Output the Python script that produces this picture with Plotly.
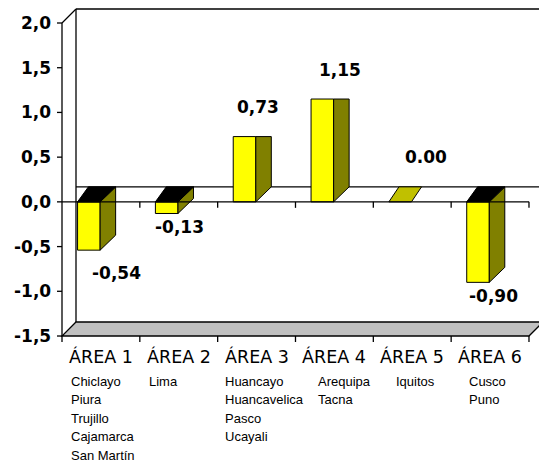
import plotly.graph_objects as go

# ---------------- data ----------------
areas = ["ÁREA 1", "ÁREA 2", "ÁREA 3", "ÁREA 4", "ÁREA 5", "ÁREA 6"]
values = [-0.54, -0.13, 0.73, 1.15, 0.00, -0.90]
value_labels = ["-0,54", "-0,13", "0,73", "1,15", "0.00", "-0,90"]
cities = [
    ["Chiclayo", "Piura", "Trujillo", "Cajamarca", "San Martín"],
    ["Lima"],
    ["Huancayo", "Huancavelica", "Pasco", "Ucayali"],
    ["Arequipa", "Tacna"],
    ["Iquitos"],
    ["Cusco", "Puno"],
]
y_ticks = [-1.5, -1.0, -0.5, 0.0, 0.5, 1.0, 1.5, 2.0]
y_tick_labels = ["-1,5", "-1,0", "-0,5", "0,0", "0,5", "1,0", "1,5", "2,0"]

# ---------------- layout constants ----------------
W, H = 539, 463
PXX = 77.83          # pixels per category
PXY = 89.43          # pixels per value unit
XMIN = -0.5 - 62 / PXX
XMAX = XMIN + W / PXX
YMAX = 2.0 + 23 / PXY
YMIN = YMAX - H / PXY

DXW, DYW = 14 / PXX, 14 / PXY      # wall depth
DXB, DYB = 15.5 / PXX, 15 / PXY    # bar depth
FRONT_OFF, FRONT_W = -0.30, 0.29
TOP_SHIFT = 0.7

label_dx_px = [16, 1, 1, 6, 14, 3]
label_dy_px = [-23, -14, 30, 29, 45, -14]
city_left_px = [69, 147, 223, 316, 394, 467]

YELLOW = "#FFFF00"
OLIVE = "#808000"
ZEROFACE = "#C0C000"
GREY = "#C0C0C0"

fig = go.Figure()

# front faces
fig.add_trace(go.Bar(
    x=list(range(len(values))), y=[v if v != 0 else None for v in values],
    width=FRONT_W, offset=FRONT_OFF,
    marker=dict(color=YELLOW, line=dict(color="black", width=1)),
    hoverinfo="skip",
))

side_x, side_y, top_x, top_y, zero_x, zero_y = [], [], [], [], [], []
for i, v in enumerate(values):
    x0 = i + FRONT_OFF
    x1 = x0 + FRONT_W
    if v == 0:
        zero_x += [x0, x1, x1 + DXB * 0.65, x0 + DXB * 0.65, x0, None]
        zero_y += [0, 0, DYB, DYB, 0, None]
        continue
    if v < 0:
        side_x += [x1, x1 + DXB, x1 + DXB, x1, x1, None]
        side_y += [0, DYB, v + DYB, v, 0, None]
        top_x += [x0, x1, x1 + DXB, x0 + DXB * TOP_SHIFT, x0, None]
        top_y += [0, 0, DYB, DYB, 0, None]
    else:
        side_x += [x1, x1 + DXB, x1 + DXB, x1, x1, None]
        side_y += [0, DYB, v, v, 0, None]

for xs, ys, col in [(side_x, side_y, OLIVE), (top_x, top_y, "black"), (zero_x, zero_y, ZEROFACE)]:
    fig.add_trace(go.Scatter(x=xs, y=ys, mode="lines", fill="toself", fillcolor=col,
                             line=dict(color="black", width=1), hoverinfo="skip"))

shapes = []
ln = dict(color="black", width=1.3)
# floor
shapes.append(dict(type="path", layer="below",
                   path=f"M {-0.5},{-1.5} L {5.5},{-1.5} L {5.5 + DXW},{-1.5 + DYW} L {-0.5 + DXW},{-1.5 + DYW} Z",
                   fillcolor=GREY, line=ln, xref="x", yref="y"))
# back wall
shapes.append(dict(type="line", layer="below", x0=-0.5 + DXW, x1=-0.5 + DXW, y0=-1.5 + DYW, y1=2.0 + DYW, line=ln))
shapes.append(dict(type="line", layer="below", x0=-0.5 + DXW, x1=XMAX + 1, y0=2.0 + DYW, y1=2.0 + DYW, line=ln))
shapes.append(dict(type="line", layer="below", x0=-0.5, x1=-0.5 + DXW, y0=2.0, y1=2.0 + DYW, line=ln))
# back zero line
shapes.append(dict(type="line", layer="below", x0=-0.5 + DXW, x1=XMAX + 1, y0=DYB, y1=DYB, line=ln))
# front value axis
shapes.append(dict(type="line", x0=-0.5, x1=-0.5, y0=-1.5, y1=2.0, line=ln))
for t in y_ticks:
    shapes.append(dict(type="line", x0=-0.5 - 5 / PXX, x1=-0.5, y0=t, y1=t, line=ln))
# front zero line with ticks
shapes.append(dict(type="line", x0=-0.5, x1=5.5, y0=0, y1=0, line=ln))
for k in range(len(areas) + 1):
    xb = -0.5 + k
    if k > 0:
        shapes.append(dict(type="line", x0=xb, x1=xb, y0=0, y1=-6 / PXY, line=ln))
    shapes.append(dict(type="line", x0=xb, x1=xb, y0=-1.5, y1=-1.5 - 6 / PXY, line=ln))

annotations = []
for t, txt in zip(y_ticks, y_tick_labels):
    annotations.append(dict(x=-0.5, y=t, text=txt, showarrow=False, xanchor="right", yanchor="middle",
                            xshift=-9, font=dict(family="DejaVu Sans", size=17, color="black", weight="bold")))
for i, (v, txt) in enumerate(zip(values, value_labels)):
    annotations.append(dict(x=i + label_dx_px[i] / PXX, y=v, text=txt, showarrow=False,
                            xanchor="center", yanchor="middle", yshift=label_dy_px[i],
                            font=dict(family="DejaVu Sans", size=17, color="black", weight="bold")))
for i, a in enumerate(areas):
    annotations.append(dict(x=i, y=-1.5, text=a, showarrow=False, xanchor="center", yanchor="middle",
                            yshift=-20, font=dict(family="DejaVu Sans", size=17.5, color="black")))
    for j, c in enumerate(cities[i]):
        annotations.append(dict(x=XMIN + city_left_px[i] / PXX, y=-1.5, text=c, showarrow=False,
                                xanchor="left", yanchor="middle", yshift=-45 - 18.5 * j,
                                font=dict(family="Liberation Sans", size=13, color="black")))

fig.update_layout(
    width=W, height=H, margin=dict(l=0, r=0, t=0, b=0),
    paper_bgcolor="white", plot_bgcolor="white",
    showlegend=False, hovermode=False,
    xaxis=dict(range=[XMIN, XMAX], visible=False, fixedrange=True),
    yaxis=dict(range=[YMIN, YMAX], visible=False, fixedrange=True),
    shapes=shapes, annotations=annotations,
)
fig.write_html("out.html", config={"displayModeBar": False},
               post_script="document.body.style.margin='0';document.body.style.padding='0';")
